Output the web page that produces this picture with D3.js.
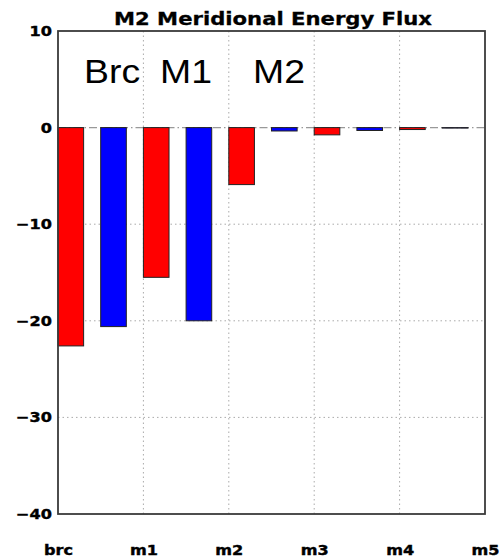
<!DOCTYPE html>
<html><head><meta charset="utf-8">
<script src="https://cdn.jsdelivr.net/npm/d3@7/dist/d3.min.js"></script>
<style>body{margin:0;background:#fff}</style>
</head><body>
<script>
const categories = ["brc","m1","m2","m3","m4","m5"];
const redValues = [-22.6, -15.5, -5.9, -0.75, -0.2];
const blueValues = [-20.6, -20.0, -0.35, -0.3, -0.05];
const yTicks = [10, 0, -10, -20, -30, -40];
const annotations = [["Brc", 84], ["M1", 160], ["M2", 253]];
const title = "M2 Meridional Energy Flux";

const W = 500, H = 560;
const m = {left: 58, right: 15, top: 31, bottom: 46};
const svg = d3.select("body").append("svg").attr("width", W).attr("height", H);

const x = d3.scaleLinear().domain([0, 5]).range([m.left, W - m.right]);
const y = d3.scaleLinear().domain([-40, 10]).range([H - m.bottom, m.top]);
const barW = 0.3;
const SX = 1.15;

// grid
const g = svg.append("g");
g.selectAll(".vg").data([1,2,3,4]).enter().append("line")
  .attr("x1", d => x(d)).attr("x2", d => x(d)).attr("y1", y(10)).attr("y2", y(-40))
  .attr("stroke", "#aaa").attr("stroke-width", 1).attr("stroke-dasharray", "1.5,3");
g.selectAll(".hg").data([-10,-20,-30]).enter().append("line")
  .attr("x1", x(0)).attr("x2", x(5)).attr("y1", d => y(d)).attr("y2", d => y(d))
  .attr("stroke", "#aaa").attr("stroke-width", 1).attr("stroke-dasharray", "1.5,3");
g.append("line").attr("x1", x(0)).attr("x2", x(5)).attr("y1", y(0)).attr("y2", y(0))
  .attr("stroke", "#999").attr("stroke-width", 1.2).attr("stroke-dasharray", "8,3,1.5,3");

// bars
const bars = [];
redValues.forEach((v, i) => bars.push({pos: i, v, c: "#ff0000"}));
blueValues.forEach((v, i) => bars.push({pos: i + 0.5, v, c: "#0000ff"}));
svg.selectAll(".bar").data(bars).enter().append("rect")
  .attr("x", d => x(d.pos)).attr("width", x(barW) - x(0))
  .attr("y", d => y(Math.max(0, d.v))).attr("height", d => Math.abs(y(d.v) - y(0)))
  .attr("fill", d => d.c).attr("stroke", "#222").attr("stroke-width", 1);

// frame
svg.append("rect").attr("x", x(0)).attr("y", y(10)).attr("width", x(5) - x(0)).attr("height", y(-40) - y(10))
  .attr("fill", "none").attr("stroke", "#3a3a3a").attr("stroke-width", 1.8);

// y axis
const yAxis = d3.axisLeft(y).tickValues(yTicks).tickSize(0).tickPadding(6)
  .tickFormat(d => d < 0 ? "\u2212" + Math.abs(d) : d);
const ya = svg.append("g").attr("transform", `translate(${x(0)},0)`).call(yAxis);
ya.select(".domain").remove();
ya.selectAll("text").attr("font-family", "DejaVu Sans").attr("font-weight", "bold").attr("font-size", 14).attr("fill", "#000")
  .attr("stroke", "#000").attr("stroke-width", 0.4)
  .attr("x", 0).attr("transform", `translate(-6,0) scale(${SX},1)`);

// x axis
const xAxis = d3.axisBottom(x).tickValues([0,1,2,3,4,5]).tickSize(0)
  .tickFormat((d, i) => categories[i]);
const xa = svg.append("g").attr("transform", `translate(0,${y(-40)})`).call(xAxis);
xa.select(".domain").remove();
xa.selectAll("text").attr("font-family", "DejaVu Sans").attr("font-weight", "bold").attr("font-size", 14).attr("fill", "#000")
  .attr("stroke", "#000").attr("stroke-width", 0.4)
  .attr("y", 0).attr("dy", 0).attr("transform", `translate(0,41) scale(${SX},1)`);

// title
svg.append("text").attr("x", 114).attr("y", 25)
  .attr("font-family", "DejaVu Sans").attr("font-weight", "bold").attr("font-size", 18)
  .attr("stroke", "#000").attr("stroke-width", 0.3)
  .attr("textLength", 318).attr("lengthAdjust", "spacingAndGlyphs").text(title);

// annotations
svg.selectAll(".ann").data(annotations).enter().append("text")
  .attr("transform", d => `translate(${d[1]},83) scale(1.1,1)`)
  .attr("font-family", "Liberation Sans, Arial").attr("font-size", 34)
  .attr("fill", "#000").text(d => d[0]);
</script>
</body></html>
